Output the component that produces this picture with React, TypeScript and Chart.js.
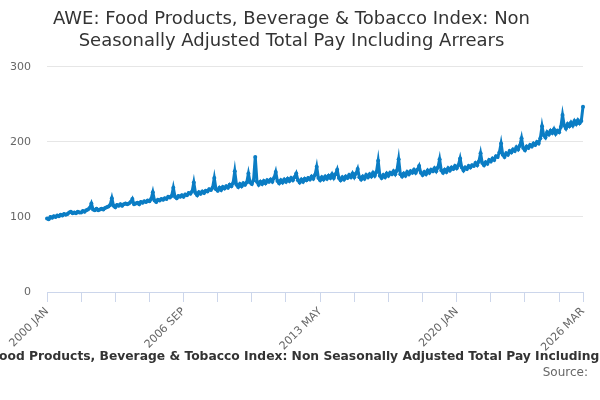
import React, { useEffect, useRef } from 'react';
import Chart from 'chart.js/auto';

const TITLE = [
  'AWE: Food Products, Beverage & Tobacco Index: Non',
  'Seasonally Adjusted Total Pay Including Arrears',
];
const SERIES_NAME =
  'AWE: Food Products, Beverage & Tobacco Index: Non Seasonally Adjusted Total Pay Including Arrears';

const MONTHS = ['JAN', 'FEB', 'MAR', 'APR', 'MAY', 'JUN', 'JUL', 'AUG', 'SEP', 'OCT', 'NOV', 'DEC'];
const FIRST_YEAR = 2000;

// monthly index values, one row per year (2026 only to March)
const v2000 = [98, 97, 100, 99, 101, 100, 102, 101, 103, 102, 104, 103];
const v2001 = [104, 106, 107, 105, 106, 105, 107, 106, 106, 108, 107, 109];
const v2002 = [110, 112, 118, 110, 109, 111, 109, 110, 111, 110, 112, 113];
const v2003 = [114, 116, 125, 115, 113, 116, 115, 117, 115, 117, 118, 117];
const v2004 = [118, 120, 124, 117, 118, 119, 117, 120, 119, 121, 120, 122];
const v2005 = [121, 124, 133, 122, 120, 123, 122, 124, 123, 125, 124, 127];
const v2006 = [126, 128, 139, 127, 125, 128, 127, 129, 127, 130, 129, 132];
const v2007 = [131, 134, 146, 132, 129, 133, 131, 134, 132, 135, 134, 137];
const v2008 = [136, 139, 152, 137, 135, 139, 136, 140, 138, 141, 139, 143];
const v2009 = [141, 145, 161, 143, 140, 144, 141, 145, 143, 146, 158, 146];
const v2010 = [144, 149, 180, 147, 143, 147, 144, 148, 145, 149, 147, 150];
const v2011 = [147, 152, 160, 148, 145, 149, 146, 150, 147, 151, 148, 152];
const v2012 = [149, 153, 158, 149, 146, 150, 147, 151, 149, 152, 150, 154];
const v2013 = [151, 156, 167, 152, 149, 153, 150, 154, 151, 155, 152, 157];
const v2014 = [152, 157, 163, 152, 149, 153, 150, 154, 152, 156, 153, 158];
const v2015 = [153, 158, 164, 153, 150, 154, 151, 156, 153, 157, 154, 159];
const v2016 = [155, 160, 175, 155, 152, 156, 153, 158, 155, 159, 157, 161];
const v2017 = [157, 162, 177, 157, 154, 158, 155, 160, 157, 161, 159, 163];
const v2018 = [159, 163, 168, 159, 156, 160, 157, 162, 159, 163, 161, 165];
const v2019 = [161, 166, 177, 162, 159, 163, 160, 165, 162, 166, 164, 168];
const v2020 = [165, 169, 178, 166, 162, 166, 164, 168, 166, 169, 168, 172];
const v2021 = [169, 174, 185, 172, 169, 173, 171, 176, 174, 178, 176, 181];
const v2022 = [180, 186, 198, 183, 180, 185, 183, 188, 186, 190, 188, 193];
const v2023 = [190, 195, 205, 192, 189, 194, 192, 196, 194, 198, 196, 200];
const v2024 = [198, 205, 221, 209, 206, 213, 210, 215, 212, 217, 211, 215];
const v2025 = [213, 220, 236, 222, 218, 224, 221, 226, 222, 228, 224, 229];
const v2026 = [225, 228, 247];

const yearRows = [
  v2000, v2001, v2002, v2003, v2004, v2005, v2006, v2007, v2008, v2009,
  v2010, v2011, v2012, v2013, v2014, v2015, v2016, v2017, v2018, v2019,
  v2020, v2021, v2022, v2023, v2024, v2025, v2026,
];

const labels: string[] = [];
const values: number[] = [];
yearRows.forEach((row, y) => {
  row.forEach((v, m) => {
    labels.push(`${FIRST_YEAR + y} ${MONTHS[m]}`);
    values.push(v);
  });
});

const Y_TICKS = [0, 100, 200, 300];
const LAST = labels.length - 1;

const App: React.FC = () => {
  const canvasRef = useRef<HTMLCanvasElement>(null);
  const chartRef = useRef<Chart | null>(null);
  const legendRef = useRef<HTMLDivElement>(null);
  const prefixRef = useRef<HTMLSpanElement>(null);

  useEffect(() => {
    document.body.style.margin = '0';
    // the legend line is cut on the left just after its first letters
    if (legendRef.current && prefixRef.current) {
      legendRef.current.style.left = `${-prefixRef.current.offsetWidth - 1}px`;
    }
    if (!canvasRef.current) return;
    if (chartRef.current) chartRef.current.destroy();

    chartRef.current = new Chart(canvasRef.current, {
      type: 'line',
      data: {
        labels,
        datasets: [
          {
            label: SERIES_NAME,
            data: values,
            borderColor: '#0b7dc4',
            backgroundColor: '#0b7dc4',
            borderWidth: 3,
            pointRadius: 2,
            pointBorderWidth: 0,
            tension: 0,
          },
        ],
      },
      options: {
        animation: false,
        responsive: true,
        maintainAspectRatio: false,
        layout: { padding: { left: 0, right: 17, top: 0, bottom: 48 } },
        plugins: {
          legend: { display: false },
          tooltip: { enabled: false },
          title: {
            display: true,
            text: TITLE,
            color: '#333333',
            font: { family: 'DejaVu Sans', size: 18, weight: 'normal', lineHeight: 1.22 },
            padding: { top: 8, bottom: 15 },
          },
        },
        scales: {
          x: {
            type: 'category',
            offset: false,
            afterFit: (scale) => {
              scale.height = 60;
            },
            grid: {
              drawOnChartArea: false,
              drawTicks: true,
              tickLength: 10,
              color: (ctx) =>
                ctx.index % 20 === 0 || ctx.index === LAST ? '#ccd6eb' : 'rgba(0,0,0,0)',
            },
            border: { display: true, color: '#ccd6eb' },
            ticks: {
              autoSkip: false,
              maxRotation: 45,
              minRotation: 45,
              color: '#666666',
              font: { family: 'DejaVu Sans', size: 11 },
              callback: (_v, i) => (i % 80 === 0 || i === LAST ? labels[i] : ''),
            },
          },
          y: {
            min: 0,
            max: 300,
            afterFit: (scale) => {
              scale.width = 47;
            },
            afterBuildTicks: (scale) => {
              scale.ticks = Y_TICKS.map((value) => ({ value }));
            },
            grid: { color: '#e6e6e6', drawTicks: false },
            border: { display: false },
            ticks: {
              padding: 16,
              color: '#666666',
              font: { family: 'DejaVu Sans', size: 11 },
            },
          },
        },
      },
    });

    return () => {
      if (chartRef.current) {
        chartRef.current.destroy();
        chartRef.current = null;
      }
    };
  }, []);

  return (
    <div style={{ position: 'relative', width: 600, height: 400, overflow: 'hidden', background: '#fff' }}>
      <canvas ref={canvasRef}></canvas>
      <div
        ref={legendRef}
        style={{
          position: 'absolute',
          top: 349,
          left: -46,
          whiteSpace: 'nowrap',
          fontFamily: 'DejaVu Sans',
          fontWeight: 'bold',
          fontSize: 12.3,
          color: '#333333',
        }}
      >
        <span ref={prefixRef}>AWE: F</span>
        <span>{SERIES_NAME.slice(6)}</span>
      </div>
      <div
        style={{
          position: 'absolute',
          top: 365,
          right: 12,
          fontFamily: 'DejaVu Sans',
          fontSize: 12,
          color: '#666666',
        }}
      >
        Source:
      </div>
    </div>
  );
};

export default App;
